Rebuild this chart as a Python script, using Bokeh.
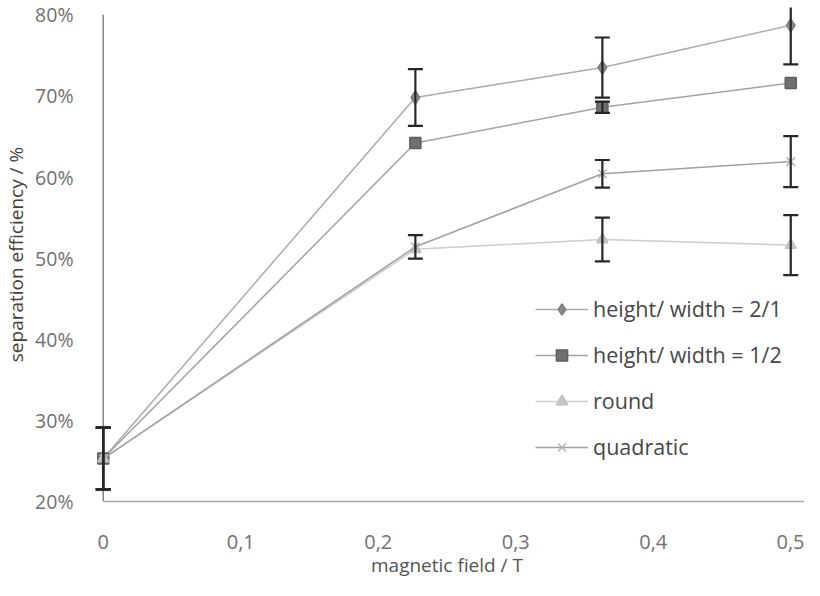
import numpy as np
from bokeh.plotting import figure
from bokeh.models import Range1d, FixedTicker, Legend, LegendItem
from bokeh.embed import file_html
from bokeh.resources import INLINE

# ---- data ----
field_T = [0, 0.227, 0.363, 0.5]

eff_hw21 = [25.3, 69.8, 73.5, 78.7]
err_hw21 = [3.8, 3.5, 3.7, 4.8]

eff_hw12 = [25.3, 64.2, 68.6, 71.6]
err_hw12 = [3.8, 0.0, 0.7, 0.0]

eff_round = [25.3, 51.1, 52.3, 51.6]
err_round = [3.8, 0.0, 2.7, 3.7]

eff_quad = [25.3, 51.4, 60.4, 61.9]
err_quad = [3.8, 1.45, 1.7, 3.15]

series_names = ["height/ width = 2/1", "height/ width = 1/2", "round", "quadratic"]

x_ticks = [0, 0.1, 0.2, 0.3, 0.4, 0.5]
x_tick_labels = ["0", "0,1", "0,2", "0,3", "0,4", "0,5"]
y_ticks = [20, 30, 40, 50, 60, 70, 80]
y_tick_labels = ["20%", "30%", "40%", "50%", "60%", "70%", "80%"]

x_title = "magnetic field / T"
y_title = "separation efficiency / %"

FONT = "Open Sans"

p = figure(width=804, height=580,
           x_range=Range1d(-0.01, 0.51), y_range=Range1d(20, 80.9),
           output_backend="svg", toolbar_location=None,
           min_border_left=81, min_border_right=0,
           min_border_top=7, min_border_bottom=71)
p.background_fill_color = "white"
p.border_fill_color = "white"
p.outline_line_color = None
p.xgrid.visible = False
p.ygrid.visible = False

# y axis line drawn at x = 0 (vertical axis crossing)
p.segment(x0=[x_ticks[0]], y0=[y_ticks[0]], x1=[x_ticks[0]], y1=[y_ticks[-1]],
          line_color="#858585", line_width=1.5)

styles = [
    dict(line="#ababab", marker="diamond", size=13, fill="#8c8c8c", edge="#7c7c7c"),
    dict(line="#a3a3a3", marker="square", size=11, fill="#707070", edge="#5e5e5e"),
    dict(line="#cdcdcd", marker="triangle", size=11, fill="#c6c6c6", edge="#c0c0c0"),
    dict(line="#a0a0a0", marker="x", size=12, fill="#b8b8b8", edge="#b4b4b4"),
]
effs = [eff_hw21, eff_hw12, eff_round, eff_quad]
errs = [err_hw21, err_hw12, err_round, err_quad]

items = []
for name, eff, st in zip(series_names, effs, styles):
    lr = p.line(field_T, eff, line_color=st["line"], line_width=1.5)
    mr = p.scatter(field_T, eff, marker=st["marker"], size=st["size"],
                   fill_color=st["fill"], line_color=st["edge"], line_width=1.5)
    items.append(LegendItem(label=name, renderers=[lr, mr]))

# error bars
for eff, err in zip(effs, errs):
    x = np.array(field_T, dtype=float)
    y = np.array(eff, dtype=float)
    e = np.array(err, dtype=float)
    m = e > 0
    x, y, e = x[m], y[m], e[m]
    p.segment(x0=x, y0=y - e, x1=x, y1=y + e, line_color="#262626", line_width=2.2)
    p.scatter(np.concatenate([x, x]), np.concatenate([y - e, y + e]), marker="dash",
              size=15, line_color="#262626", line_width=2.2)

legend = Legend(items=items, location=(446, 40))
legend.border_line_color = None
legend.background_fill_alpha = 0
legend.padding = 0
legend.margin = 0
legend.spacing = 17
legend.glyph_width = 53
legend.glyph_height = 28
legend.label_height = 28
legend.label_standoff = 5
legend.label_text_font = FONT
legend.label_text_font_size = "21.5px"
legend.label_text_color = "#474747"
p.add_layout(legend)

# x axis
xa = p.xaxis[0]
xa.ticker = FixedTicker(ticks=x_ticks)
xa.major_label_overrides = {t: l for t, l in zip(x_ticks, x_tick_labels)}
xa.bounds = (x_ticks[0], 0.51)
xa.axis_line_color = "#a8a8a8"
xa.axis_line_width = 1.5
xa.major_tick_line_color = None
xa.minor_tick_line_color = None
xa.major_label_standoff = 27
xa.major_label_text_font = FONT
xa.major_label_text_font_size = "20px"
xa.major_label_text_color = "#707070"
xa.axis_label = x_title
xa.axis_label_standoff = 0
xa.axis_label_text_font = FONT
xa.axis_label_text_font_size = "19px"
xa.axis_label_text_font_style = "normal"
xa.axis_label_text_color = "#555555"

# y axis
ya = p.yaxis[0]
ya.ticker = FixedTicker(ticks=y_ticks)
ya.major_label_overrides = {t: l for t, l in zip(y_ticks, y_tick_labels)}
ya.axis_line_color = None
ya.major_tick_line_color = None
ya.minor_tick_line_color = None
ya.major_label_standoff = 10
ya.major_label_text_font = FONT
ya.major_label_text_font_size = "19.5px"
ya.major_label_text_color = "#707070"
ya.axis_label = y_title
ya.axis_label_standoff = 3
ya.axis_label_text_font = FONT
ya.axis_label_text_font_size = "19px"
ya.axis_label_text_font_style = "normal"
ya.axis_label_text_color = "#404040"

open("out.html", "w").write(file_html(p, INLINE))
